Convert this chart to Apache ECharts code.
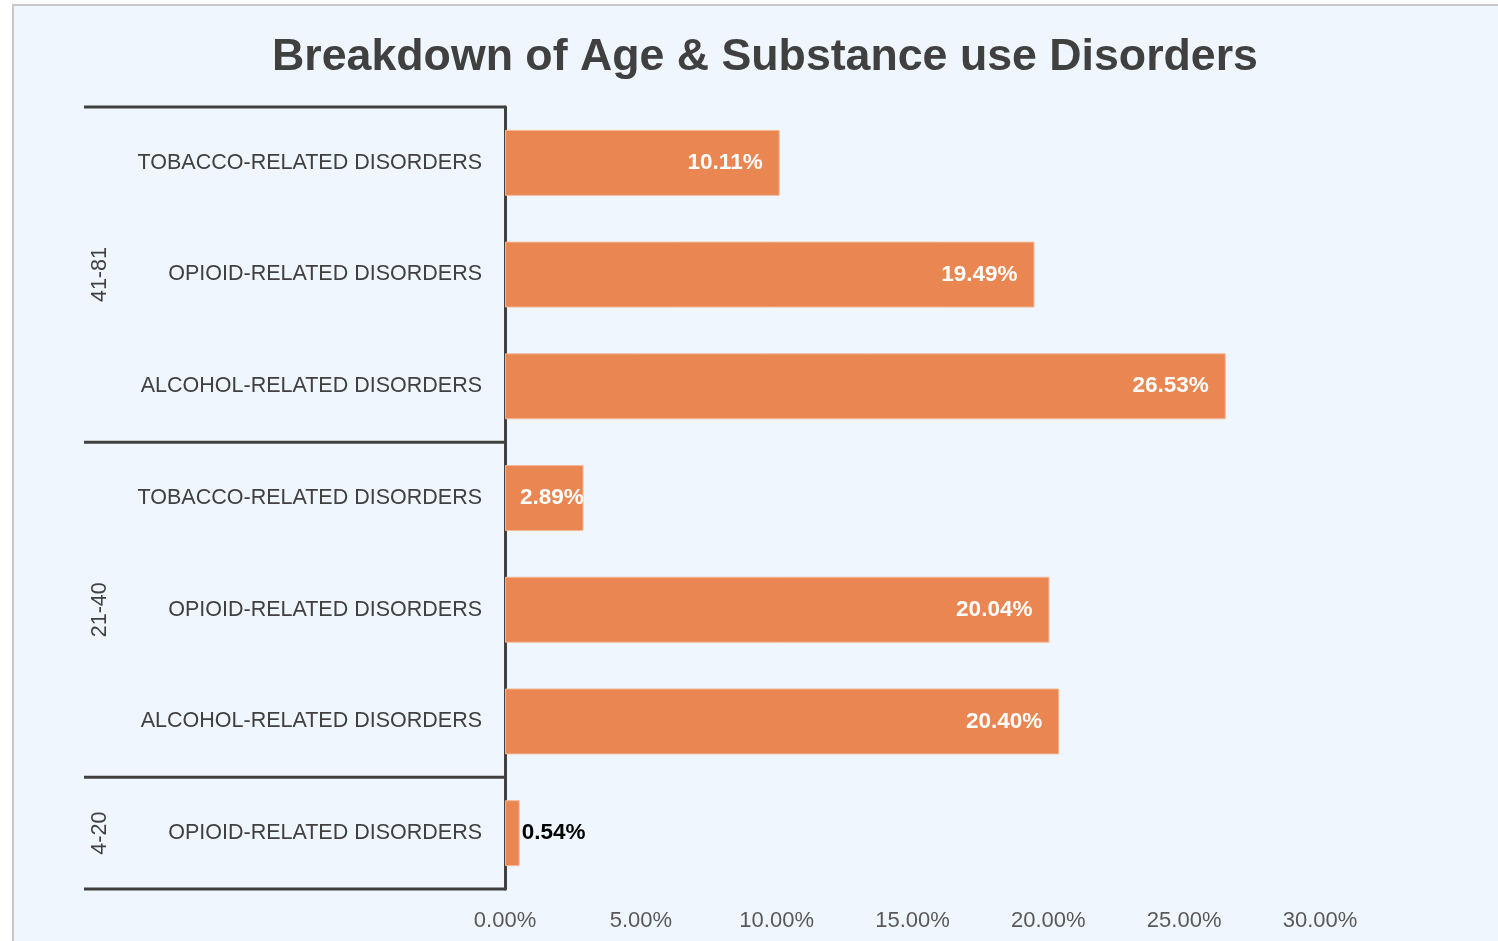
<!DOCTYPE html>
<html>
<head>
<meta charset="utf-8">
<script src="https://cdn.jsdelivr.net/npm/echarts@6/dist/echarts.min.js"></script>
<style>
  html, body { margin: 0; padding: 0; background: #ffffff; overflow: hidden; }
  #frame {
    position: absolute; left: 12px; top: 4px; width: 1500px; height: 950px;
    background: #EFF6FD; border-left: 2px solid #C8C8C8; border-top: 2px solid #C8C8C8;
  }
  #chart { position: absolute; left: 0; top: 0; width: 1498px; height: 941px; }
</style>
</head>
<body>
<div id="frame"></div>
<div id="chart"></div>
<script>
// Disorder categories, listed top to bottom
const categories = [
  'TOBACCO-RELATED DISORDERS',
  'OPIOID-RELATED DISORDERS',
  'ALCOHOL-RELATED DISORDERS',
  'TOBACCO-RELATED DISORDERS',
  'OPIOID-RELATED DISORDERS',
  'ALCOHOL-RELATED DISORDERS',
  'OPIOID-RELATED DISORDERS'
];
// Age groups and how many categories each spans
const ageGroups = ['41-81', '21-40', '4-20'];
const groupSizes = [3, 3, 1];
// Share of cases (%)
const shares = [10.11, 19.49, 26.53, 2.89, 20.04, 20.40, 0.54];
// X axis ticks (%)
const xTicks = [0, 5, 10, 15, 20, 25, 30];

const INK = '#404040';
const BAR = '#EA8651';
const FONT = '"Liberation Sans", Arial, sans-serif';

const chart = echarts.init(document.getElementById('chart'), null, { renderer: 'canvas' });

function pct(v) { return v.toFixed(2) + '%'; }

const barData = shares.map(v => {
  let label;
  if (v < 1) {
    label = { position: 'right', distance: 2, color: '#000000' };
  } else if (v < 5) {
    label = { position: 'insideLeft', distance: 15, color: '#ffffff' };
  } else {
    label = { position: 'insideRight', distance: 17, color: '#ffffff' };
  }
  return { value: v, label };
});

chart.setOption({
  backgroundColor: 'transparent',
  animation: false,
  title: {
    text: 'Breakdown of Age & Substance use Disorders',
    left: 760, top: 30, textAlign: 'center',
    textStyle: { fontFamily: FONT, fontSize: 44.7, fontWeight: 'bold', color: INK }
  },
  grid: { left: 505, right: 178, top: 107, bottom: 52, containLabel: false },
  xAxis: {
    type: 'value', min: xTicks[0], max: xTicks[xTicks.length - 1], interval: 5,
    axisLine: { show: false }, axisTick: { show: false }, splitLine: { show: false },
    axisLabel: {
      margin: 21, fontFamily: FONT, fontSize: 22, color: '#595959',
      formatter: v => pct(v)
    }
  },
  yAxis: {
    type: 'category', inverse: true, data: categories,
    axisLine: { show: true, lineStyle: { color: INK, width: 3 } },
    axisTick: { show: false },
    axisLabel: { margin: 23, fontFamily: FONT, fontSize: 21.5, color: INK }
  },
  series: [{
    type: 'bar',
    data: barData,
    barWidth: '59%',
    itemStyle: { color: BAR, borderColor: '#F3B796', borderWidth: 1 },
    label: {
      show: true, fontFamily: FONT, fontSize: 22.5, fontWeight: 'bold',
      formatter: p => pct(p.value)
    }
  }]
});

// Group brackets and rotated age labels, placed on the category axis scale
function drawGroups() {
  const c0 = chart.convertToPixel({ yAxisIndex: 0 }, 0);
  const c1 = chart.convertToPixel({ yAxisIndex: 0 }, 1);
  const band = c1 - c0;
  const xAxisLeft = chart.convertToPixel({ xAxisIndex: 0 }, 0);
  const lineLeft = 84;
  const elements = [];
  let start = 0;
  const bounds = [];
  ageGroups.forEach((g, gi) => {
    const top = chart.convertToPixel({ yAxisIndex: 0 }, start) - band / 2;
    const end = start + groupSizes[gi] - 1;
    const bottom = chart.convertToPixel({ yAxisIndex: 0 }, end) + band / 2;
    bounds.push(top);
    if (gi === ageGroups.length - 1) bounds.push(bottom);
    elements.push({
      type: 'text',
      x: 100, y: (top + bottom) / 2,
      rotation: Math.PI / 2,
      style: {
        text: g, fontFamily: FONT, fontSize: 21.5, fill: INK,
        align: 'center', verticalAlign: 'middle'
      }
    });
    start = end + 1;
  });
  bounds.forEach(y => {
    elements.push({
      type: 'line',
      shape: { x1: lineLeft, y1: y, x2: xAxisLeft + 1, y2: y },
      style: { stroke: INK, lineWidth: 3 }
    });
  });
  chart.setOption({ graphic: elements });
}
drawGroups();
</script>
</body>
</html>
